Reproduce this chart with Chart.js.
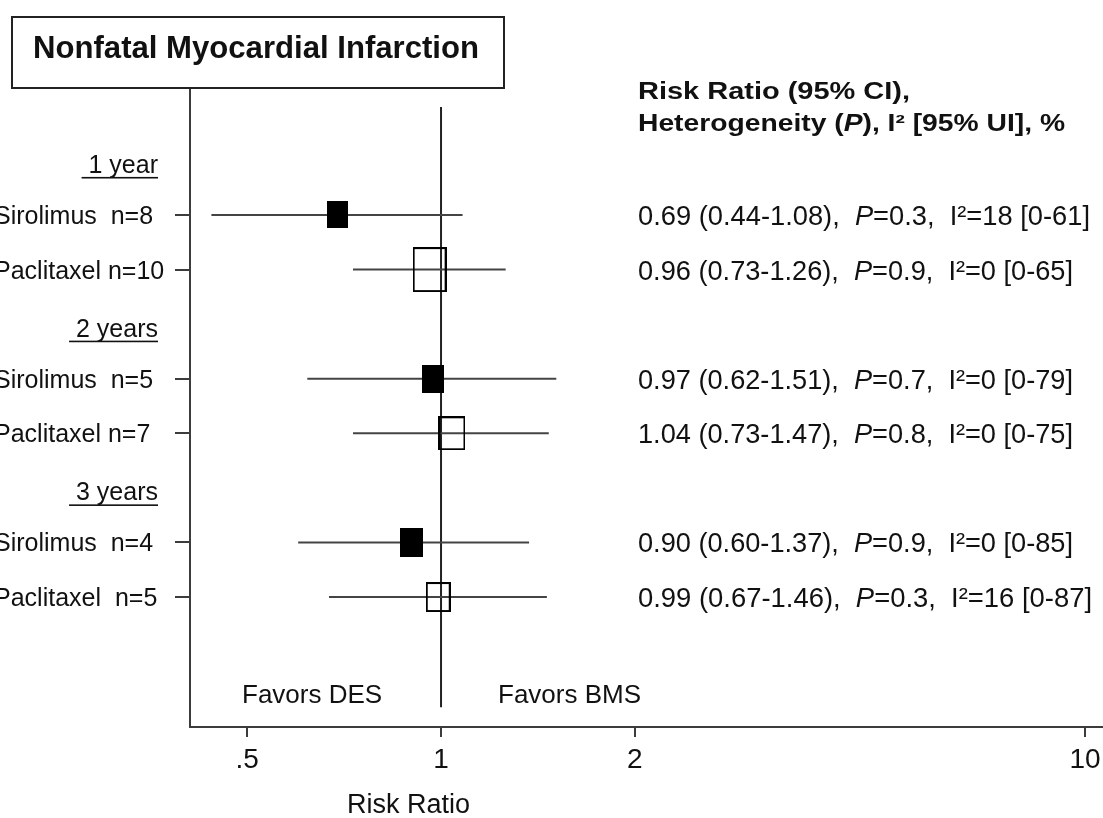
<!DOCTYPE html>
<html>
<head>
<meta charset="utf-8">
<title>Nonfatal Myocardial Infarction</title>
<script src="https://cdn.jsdelivr.net/npm/chart.js@4.4.1/dist/chart.umd.min.js"></script>
<style>
html, body { margin: 0; padding: 0; background: #fff; overflow: hidden; }
#wrap { position: relative; width: 1103px; height: 818px; overflow: hidden; }
</style>
</head>
<body>
<div id="wrap"><canvas id="forest" width="1140" height="818"></canvas></div>
<script>
// rows of the forest plot (y index, top to bottom)
var rowLabels = ["Sirolimus  n=8", "Paclitaxel n=10", "Sirolimus  n=5", "Paclitaxel n=7", "Sirolimus  n=4", "Paclitaxel  n=5"];
var rowPos = [1, 2, 4, 5, 7, 8];
var groupLabels = [" 1 year", " 2 years", " 3 years"];
var groupPos = [0, 3, 6];
var stentType = ["sirolimus", "paclitaxel", "sirolimus", "paclitaxel", "sirolimus", "paclitaxel"];

// risk ratios and 95% CI
var rr = [0.69, 0.96, 0.97, 1.04, 0.90, 0.99];
var ciLow = [0.44, 0.73, 0.62, 0.73, 0.60, 0.67];
var ciHigh = [1.08, 1.26, 1.51, 1.47, 1.37, 1.46];

// heterogeneity
var pHet = ["0.3", "0.9", "0.7", "0.8", "0.9", "0.3"];
var i2 = ["18", "0", "0", "0", "0", "16"];
var i2Low = ["0", "0", "0", "0", "0", "0"];
var i2High = ["61", "65", "79", "75", "85", "87"];

var xTicks = [0.5, 1, 2, 10];
var xTickLabels = [".5", "1", "2", "10"];

// ---- styling ----
var FONT = "'Liberation Sans', Arial, Helvetica, sans-serif";
var INK = "#111";
var LINE = "#3c3c3c";
var boxW = [21, 34, 22, 27, 23, 25];
var boxH = [27, 45, 28, 34, 29, 30];
var textEnd = [1090, 1073, 1073, 1073, 1073, 1092];

function makeBox(w, h, filled) {
  var c = document.createElement("canvas");
  c.width = w; c.height = h;
  var g = c.getContext("2d");
  g.fillStyle = "#000";
  g.strokeStyle = "#000";
  if (filled) {
    g.fillRect(0, 0, w, h);
  } else {
    g.lineWidth = 2;
    g.strokeRect(1, 1, w - 2, h - 2);
  }
  return c;
}

// draw a sequence of [text, font] runs, optionally squeezed to a width
function drawRuns(ctx, runs, x, y, width) {
  var total = 0;
  runs.forEach(function(r) { ctx.font = r[1]; total += ctx.measureText(r[0]).width; });
  var s = width ? width / total : 1;
  ctx.save();
  ctx.translate(x, y);
  ctx.scale(s, 1);
  var cx = 0;
  runs.forEach(function(r) {
    ctx.font = r[1];
    ctx.fillText(r[0], cx, 0);
    cx += ctx.measureText(r[0]).width;
  });
  ctx.restore();
}

var datasets = [];
datasets.push({
  type: "scatter",
  order: 0,
  data: rr.map(function(v, i) { return { x: v, y: rowPos[i] }; }),
  pointStyle: rr.map(function(v, i) { return makeBox(boxW[i], boxH[i], stentType[i] === "sirolimus"); }),
  pointRadius: 10
});
rr.forEach(function(v, i) {
  datasets.push({
    type: "line",
    order: 1,
    data: [{ x: ciLow[i], y: rowPos[i] }, { x: ciHigh[i], y: rowPos[i] }],
    borderColor: "#444",
    borderWidth: 2,
    pointRadius: 0,
    fill: false
  });
});

var decor = {
  id: "decor",
  beforeDatasetsDraw: function(chart) {
    var ctx = chart.ctx, xs = chart.scales.x, ys = chart.scales.y;
    var px = xs.getPixelForValue(1);
    ctx.save();
    ctx.strokeStyle = "#222";
    ctx.lineWidth = 2;
    ctx.beginPath();
    ctx.moveTo(px, ys.getPixelForValue(-0.98));
    ctx.lineTo(px, ys.getPixelForValue(10.02));
    ctx.stroke();
    ctx.restore();
  },
  afterDraw: function(chart) {
    var ctx = chart.ctx, ys = chart.scales.y;
    ctx.save();
    ctx.fillStyle = INK;
    ctx.textBaseline = "alphabetic";

    // title box
    ctx.fillStyle = "#fff";
    ctx.fillRect(12, 17, 492, 71);
    ctx.strokeStyle = "#222";
    ctx.lineWidth = 2;
    ctx.strokeRect(12, 17, 492, 71);
    ctx.fillStyle = INK;
    drawRuns(ctx, [["Nonfatal Myocardial Infarction", "bold 31px " + FONT]], 33, 58, 446);

    // group headings, underlined
    groupLabels.forEach(function(t, i) {
      var y = ys.getPixelForValue(groupPos[i]) + 12.5;
      ctx.font = "25px " + FONT;
      ctx.textAlign = "right";
      ctx.fillText(t, 158, y);
      var w = ctx.measureText(t).width;
      ctx.fillRect(158 - w, y + 4, w, 1.6);
      ctx.textAlign = "left";
    });

    // row labels
    rowLabels.forEach(function(t, i) {
      ctx.font = "25px " + FONT;
      ctx.fillText(t, -6, ys.getPixelForValue(rowPos[i]) + 9);
    });

    // header of the estimates column
    drawRuns(ctx, [["Risk Ratio (95% CI),", "bold 23px " + FONT]], 638, 99, 272);
    drawRuns(ctx, [
      ["Heterogeneity (", "bold 23px " + FONT],
      ["P", "italic bold 23px " + FONT],
      ["), I\u00B2 [95% UI], %", "bold 23px " + FONT]
    ], 638, 131, 427);

    // estimates column
    rr.forEach(function(v, i) {
      var f = "28px " + FONT;
      drawRuns(ctx, [
        [v.toFixed(2) + " (" + ciLow[i].toFixed(2) + "-" + ciHigh[i].toFixed(2) + "),  ", f],
        ["P", "italic " + f],
        ["=" + pHet[i] + ",  I\u00B2=" + i2[i] + " [" + i2Low[i] + "-" + i2High[i] + "]", f]
      ], 638, ys.getPixelForValue(rowPos[i]) + 10, textEnd[i] - 638);
    });

    // favours labels and axis title
    ctx.font = "26px " + FONT;
    ctx.fillText("Favors DES", 242, 703);
    ctx.fillText("Favors BMS", 498, 703);
    ctx.font = "27px " + FONT;
    ctx.fillText("Risk Ratio", 347, 813);
    ctx.restore();
  }
};

new Chart(document.getElementById("forest"), {
  data: { datasets: datasets },
  options: {
    responsive: false,
    animation: false,
    events: [],
    layout: { autoPadding: false, padding: { top: 88, left: 0, right: 0, bottom: 0 } },
    plugins: { legend: { display: false }, tooltip: { enabled: false }, title: { display: false } },
    scales: {
      x: {
        type: "logarithmic",
        position: "bottom",
        min: 0.4076,
        max: 12.17,
        afterBuildTicks: function(s) { s.ticks = xTicks.map(function(v) { return { value: v }; }); },
        afterFit: function(s) { s.height = 91; s.paddingLeft = 0; s.paddingRight = 0; },
        ticks: {
          autoSkip: false,
          maxRotation: 0,
          padding: 6,
          color: INK,
          font: { family: FONT, size: 28 },
          callback: function(v, i) { return xTickLabels[i]; }
        },
        grid: { drawOnChartArea: false, drawTicks: true, tickLength: 10, color: LINE, lineWidth: 2 },
        border: { display: true, color: LINE, width: 2 }
      },
      y: {
        type: "linear",
        position: "left",
        reverse: true,
        min: -1.327,
        max: 10.382,
        afterBuildTicks: function(s) { s.ticks = rowPos.map(function(v) { return { value: v }; }); },
        afterFit: function(s) { s.width = 190; s.paddingTop = 0; s.paddingBottom = 0; },
        ticks: { display: false },
        grid: { drawOnChartArea: false, drawTicks: true, tickLength: 15, color: LINE, lineWidth: 2 },
        border: { display: true, color: LINE, width: 2 }
      }
    }
  },
  plugins: [decor]
});
</script>
</body>
</html>
